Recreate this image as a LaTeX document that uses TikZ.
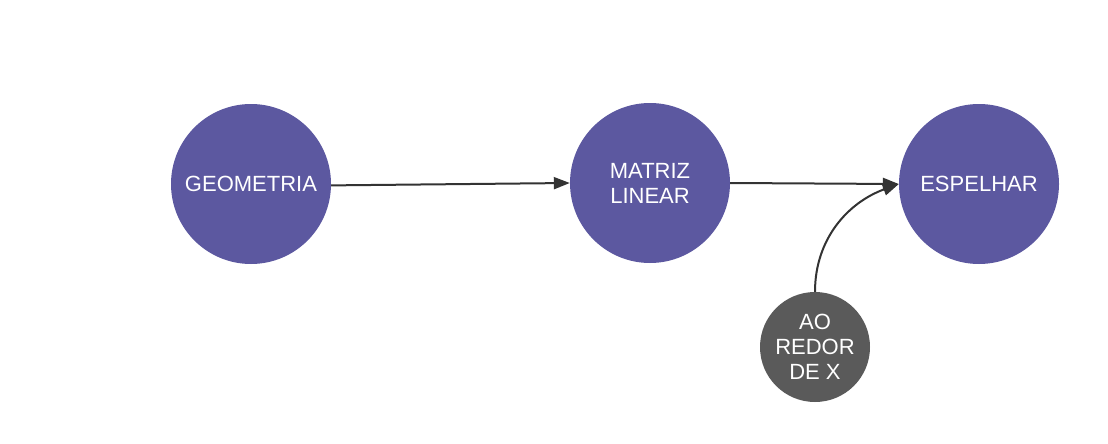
\documentclass[tikz,border=0pt]{standalone}
\usepackage{fontspec}
\setmainfont{Liberation Sans}
\usepackage{xcolor}
\usetikzlibrary{arrows.meta, positioning}

\definecolor{roxo}{HTML}{5C58A0}
\definecolor{cinza}{HTML}{5A5A5A}
\definecolor{seta}{HTML}{333333}

\begin{document}
\begin{tikzpicture}[x=1pt, y=-1pt,
    >={Triangle[length=16pt, width=12pt]},
    bola/.style={circle, fill=roxo, text=white, minimum size=160pt, inner sep=0pt,
        align=center, font=\fontsize{22}{25}\selectfont},
    bolinha/.style={circle, fill=cinza, text=white, minimum size=110pt, inner sep=0pt,
        align=center, font=\fontsize{22}{25}\selectfont},
    liga/.style={->, draw=seta, line width=2pt}]
    \useasboundingbox (0,0) rectangle (1108,444);

    % Os circulos
    \node[bola] (geo) at (251,184) {GEOMETRIA};
    \node[bola] (mat) at (650,183) {MATRIZ\\LINEAR};
    \node[bola] (esp) at (979,184) {ESPELHAR};
    \node[bolinha] (redor) at (815,347) {AO\\REDOR\\DE X};

    % As setas
    \draw[liga] (geo.-1) -- (mat.west);
    \draw[liga] (mat.east) -- (esp.west);
    \draw[liga] (redor.north) to[out=90, in=200] (esp.west);
\end{tikzpicture}
\end{document}
